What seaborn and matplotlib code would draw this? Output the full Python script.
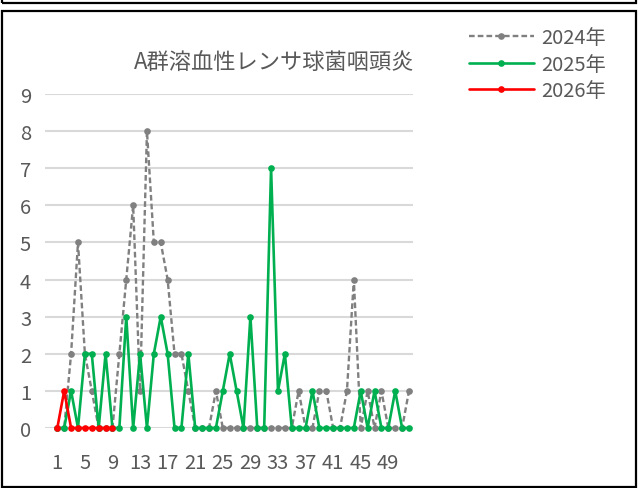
import matplotlib
matplotlib.use("Agg")
import matplotlib.pyplot as plt
import seaborn as sns
from matplotlib.patches import Rectangle

# ---- data ----
weeks = list(range(1, 53))
cases_2024 = [0, 0, 2, 5, 2, 1, 0, 0, 0, 2,
              4, 6, 1, 8, 5, 5, 4, 2, 2, 1,
              0, 0, 0, 1, 0, 0, 0, 0, 0, 0,
              0, 0, 0, 0, 0, 1, 0, 0, 1, 1,
              0, 0, 1, 4, 0, 1, 0, 1, 0, 0,
              0, 1]
cases_2025 = [0, 0, 1, 0, 2, 2, 0, 2, 0, 0,
              3, 0, 2, 0, 2, 3, 2, 0, 0, 2,
              0, 0, 0, 0, 1, 2, 1, 0, 3, 0,
              0, 7, 1, 2, 0, 0, 0, 1, 0, 0,
              0, 0, 0, 0, 1, 0, 1, 0, 0, 1,
              0, 0]
weeks_2026 = list(range(1, 10))
cases_2026 = [0, 1, 0, 0, 0, 0, 0, 0, 0]
series_labels = ["2024年", "2025年", "2026年"]
title_text = "A群溶血性レンサ球菌咽頭炎"
y_ticks = list(range(0, 10))
x_ticks = list(range(1, 53, 4))

sns.set_style("white")
plt.rcParams['font.family'] = ['Noto Sans CJK JP', 'DejaVu Sans']

TXT = "#595959"
fig = plt.figure(figsize=(6.38, 4.89), dpi=100)

# frames
fig.patches.append(Rectangle((2/638, 1 - 488/489), 634/638, (488 - 12)/489,
                             transform=fig.transFigure, fill=False,
                             edgecolor="black", lw=1.6))
fig.patches.append(Rectangle((2/638, 1 - 3.5/489), 634/638, 10/489,
                             transform=fig.transFigure, fill=False,
                             edgecolor="black", lw=1.6))

ax = fig.add_axes([45/638, 1 - 429/489, (412.7 - 45)/638, (429 - 95)/489])

sns.lineplot(x=weeks, y=cases_2024, ax=ax, color="#808080",
             linestyle=(0, (2.4, 1.3)), lw=1.7, marker="o", markersize=4.8,
             markeredgewidth=0, label=series_labels[0])
sns.lineplot(x=weeks, y=cases_2025, ax=ax, color="#00b050",
             lw=1.9, marker="o", markersize=4.8,
             markeredgewidth=0, label=series_labels[1])
sns.lineplot(x=weeks_2026, y=cases_2026, ax=ax, color="#ff0000",
             lw=1.9, marker="o", markersize=4.8,
             markeredgewidth=0, label=series_labels[2])
for ln in ax.lines:
    ln.set_clip_on(False)

ax.set_xlim(1 - 12.3/6.896, 52 + 3.7/6.896)
ax.set_ylim(0, 9)
ax.set_yticks(y_ticks)
ax.set_xticks(x_ticks)
ax.set_xticklabels([str(v) for v in x_ticks])
ax.yaxis.grid(True, color="#d9d9d9", lw=1.5)
ax.xaxis.grid(False)
ax.set_axisbelow(True)
for s in ax.spines.values():
    s.set_visible(False)
ax.tick_params(axis="both", length=0, colors=TXT, labelsize=14.5)
ax.tick_params(axis="x", pad=17)
ax.tick_params(axis="y", pad=10)
ax.set_xlabel("")
ax.set_ylabel("")

handles, labels = ax.get_legend_handles_labels()
ax.get_legend().remove()
leg = fig.legend(handles, labels, loc="upper left",
                 bbox_to_anchor=(455/638, 1 - 14/489),
                 frameon=False, fontsize=14.5, handlelength=3.2,
                 handletextpad=0.4, labelspacing=0.28, labelcolor=TXT,
                 borderpad=0.2)

fig.text(274/638, 1 - 63/489, title_text, ha="center", va="center",
         fontsize=16, color=TXT)

fig.savefig("out.png", dpi=100)
